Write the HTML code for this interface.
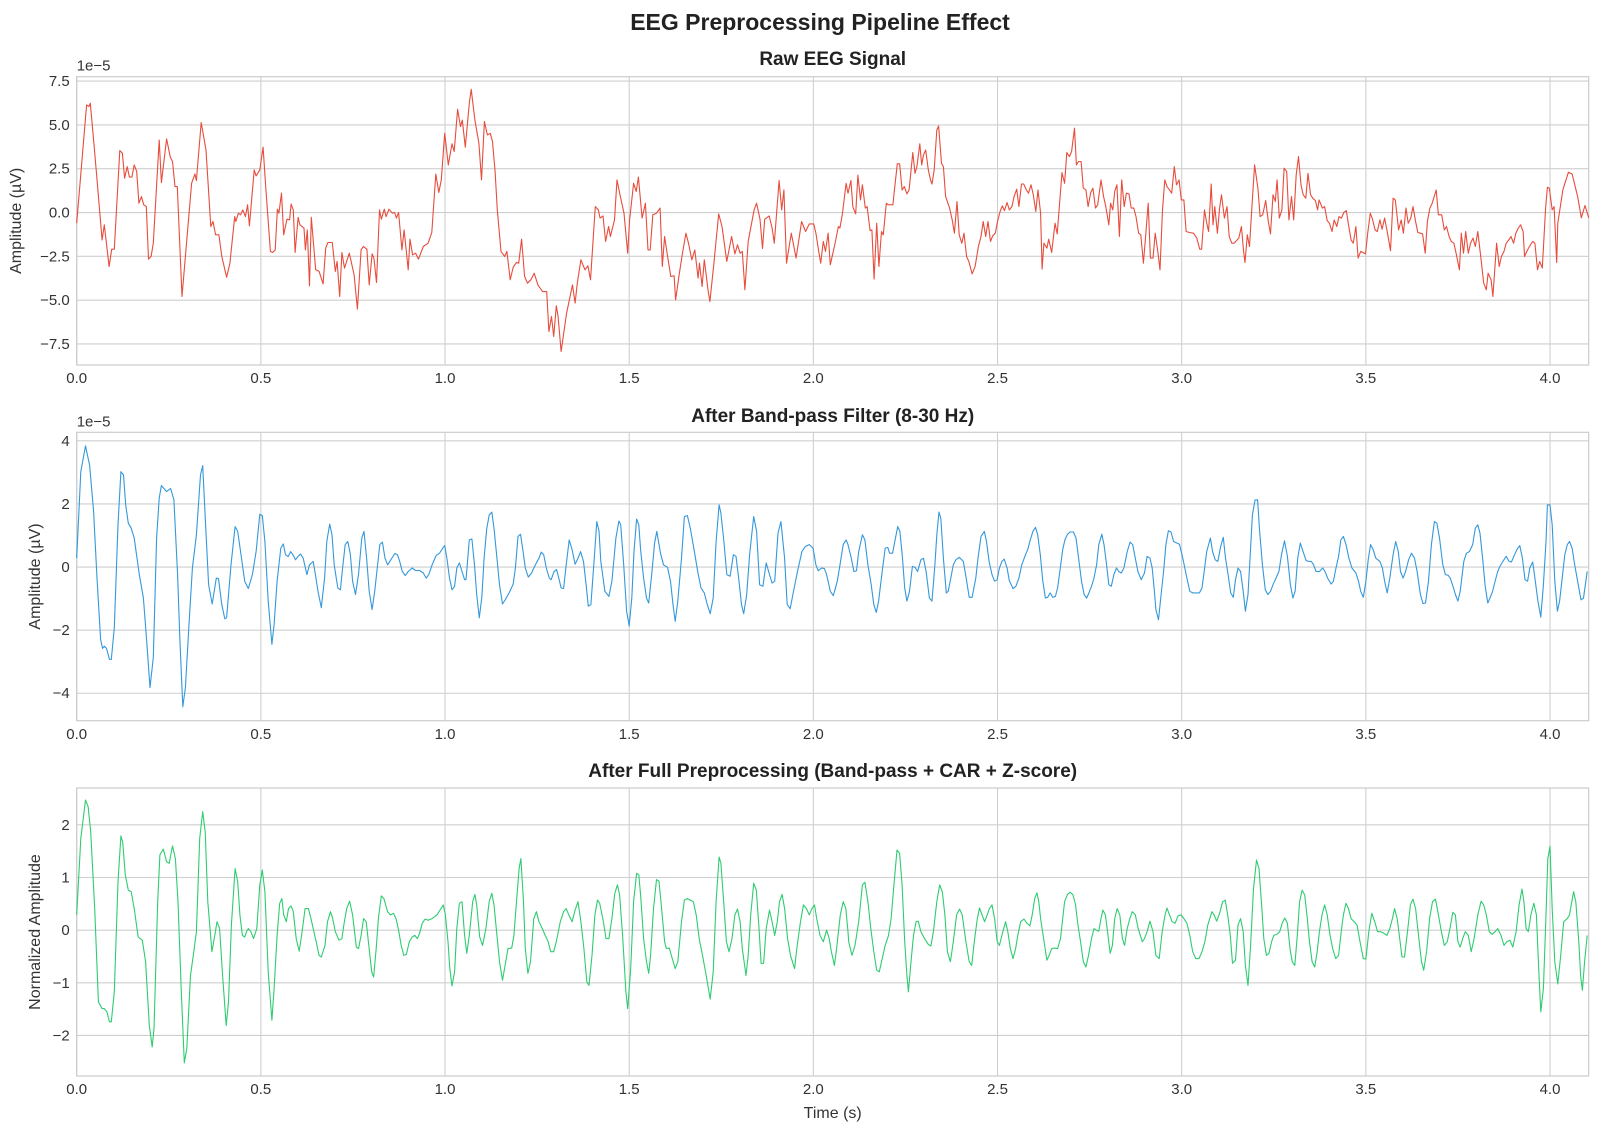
<!DOCTYPE html>
<html><head><meta charset="utf-8"><title>EEG Preprocessing Pipeline Effect</title>
<style>
html,body{margin:0;padding:0;background:#fff;}
svg{display:block;font-family:"Liberation Sans",Arial,sans-serif;}
.tk{font-size:15px;fill:#333;}
.ttl{font-size:19px;font-weight:bold;fill:#222;}
.grid{stroke:#cfcfcf;stroke-width:1.1;}
.frame{fill:none;stroke:#cccccc;stroke-width:1.2;}
</style></head>
<body>
<svg id="chart" width="1600" height="1135" viewBox="0 0 1600 1135" xmlns="http://www.w3.org/2000/svg">
<rect width="1600" height="1135" fill="#fff"/>
<text x="820" y="30" text-anchor="middle" font-size="23" font-weight="bold" fill="#222">EEG Preprocessing Pipeline Effect</text>
</svg>
<script>
// ---- data ----
const xTicks = [0.0, 0.5, 1.0, 1.5, 2.0, 2.5, 3.0, 3.5, 4.0];
const rawTicks = [-7.5, -5.0, -2.5, 0.0, 2.5, 5.0, 7.5];
const bpTicks = [-4, -2, 0, 2, 4];
const fullTicks = [-2, -1, 0, 1, 2];

const rawT = [0.000,0.027,0.033,0.037,0.046,0.053,0.069,0.075,0.088,0.095,0.102,0.117,0.124,0.130,0.137,0.143,0.150,0.156,0.163,0.169,0.176,0.182,0.189,0.195,0.202,0.208,0.224,0.230,0.244,0.254,0.260,0.267,0.273,0.286,0.312,0.321,0.325,0.338,0.351,0.364,0.370,0.377,0.386,0.394,0.407,0.416,0.429,0.432,0.439,0.445,0.451,0.458,0.464,0.469,0.482,0.487,0.497,0.506,0.513,0.526,0.532,0.539,0.545,0.549,0.556,0.562,0.571,0.578,0.582,0.588,0.593,0.601,0.606,0.617,0.621,0.626,0.632,0.637,0.649,0.658,0.669,0.676,0.682,0.694,0.702,0.707,0.714,0.720,0.727,0.740,0.753,0.762,0.772,0.778,0.788,0.794,0.802,0.807,0.814,0.822,0.827,0.835,0.840,0.848,0.857,0.863,0.868,0.874,0.883,0.889,0.900,0.905,0.912,0.920,0.928,0.941,0.954,0.964,0.975,0.983,0.990,0.999,1.009,1.019,1.025,1.034,1.042,1.047,1.055,1.066,1.071,1.081,1.092,1.099,1.107,1.115,1.123,1.129,1.136,1.142,1.152,1.162,1.168,1.177,1.185,1.194,1.200,1.208,1.216,1.224,1.233,1.242,1.252,1.265,1.276,1.282,1.289,1.295,1.302,1.307,1.315,1.330,1.346,1.353,1.359,1.369,1.380,1.388,1.395,1.408,1.416,1.421,1.429,1.436,1.444,1.449,1.460,1.467,1.475,1.486,1.496,1.501,1.512,1.519,1.525,1.535,1.544,1.551,1.557,1.564,1.574,1.584,1.590,1.596,1.602,1.613,1.622,1.626,1.635,1.644,1.654,1.661,1.670,1.678,1.687,1.691,1.698,1.704,1.714,1.719,1.730,1.743,1.752,1.765,1.778,1.787,1.794,1.801,1.807,1.814,1.823,1.839,1.846,1.855,1.862,1.868,1.880,1.888,1.894,1.907,1.914,1.920,1.927,1.940,1.953,1.968,1.979,1.989,
2.001,2.007,2.014,2.020,2.027,2.033,2.040,2.046,2.059,2.068,2.072,2.079,2.089,2.094,2.102,2.107,2.115,2.121,2.128,2.133,2.141,2.146,2.154,2.159,2.165,2.172,2.178,2.185,2.190,2.198,2.203,2.216,2.221,2.228,2.234,2.241,2.247,2.254,2.260,2.270,2.276,2.281,2.289,2.294,2.299,2.305,2.312,2.318,2.322,2.328,2.335,2.340,2.348,2.353,2.359,2.370,2.377,2.383,2.390,2.396,2.403,2.409,2.416,2.422,2.431,2.439,2.448,2.455,2.461,2.468,2.474,2.481,2.487,2.494,2.500,2.507,2.513,2.519,2.526,2.532,2.539,2.545,2.552,2.558,2.565,2.571,2.578,2.584,2.591,2.597,2.604,2.610,2.617,2.621,2.626,2.634,2.639,2.647,2.656,2.662,2.675,2.682,2.688,2.695,2.701,2.709,2.714,2.720,2.727,2.733,2.740,2.746,2.753,2.759,2.766,2.772,2.781,2.788,2.794,2.802,2.807,2.813,2.818,2.824,2.831,2.837,2.844,2.850,2.857,2.863,2.870,2.876,2.883,2.889,2.896,2.902,2.909,2.915,2.922,2.928,2.935,2.941,2.948,2.954,2.960,2.967,2.973,2.980,2.986,2.993,2.999,3.006,3.012,3.021,3.032,3.041,3.049,3.054,3.062,3.067,3.073,3.080,3.085,3.090,3.097,3.103,3.108,3.116,3.123,3.129,3.136,3.142,3.155,3.162,3.168,3.172,3.178,3.184,3.189,3.198,3.207,3.213,3.220,3.228,3.235,3.241,3.248,3.254,3.259,3.265,3.272,3.278,3.285,3.291,3.298,3.304,3.311,3.317,3.324,3.330,3.337,3.343,3.350,3.356,3.363,3.369,3.373,3.382,3.388,3.395,3.401,3.408,3.414,3.421,3.427,3.434,3.440,3.447,3.453,3.460,3.466,3.473,3.479,3.486,3.492,3.499,3.505,3.512,3.518,3.525,3.531,3.538,3.544,3.551,3.557,3.567,3.574,3.580,3.589,3.596,3.602,3.609,3.615,3.622,3.628,3.635,3.641,3.648,3.654,3.661,3.667,3.674,3.680,3.691,3.697,3.706,3.713,3.719,3.726,3.732,3.739,3.745,3.754,3.759,3.765,3.771,3.778,3.784,3.791,3.797,3.804,3.814,3.820,3.827,3.832,3.840,3.845,3.855,3.862,3.868,3.875,3.881,3.888,3.894,3.901,3.907,3.914,3.920,3.927,3.931,3.937,3.944,3.953,3.959,3.966,3.972,3.979,3.988,3.993,3.998,4.006,4.011,4.018,4.021,4.035,4.050,4.060,4.075,4.085,4.095,4.105];
const rawV = [-0.61,6.14,6.05,6.24,4.14,2.43,-1.56,-0.70,-3.08,-2.09,-2.09,3.54,3.38,1.96,2.62,2.02,2.02,2.72,2.34,0.53,0.91,0.44,0.34,-2.66,-2.51,-1.75,4.14,1.71,4.20,3.16,2.91,1.48,1.48,-4.79,1.67,2.20,1.83,5.13,3.57,-0.80,-0.51,-1.27,-1.27,-2.51,-3.69,-2.89,-0.23,-0.51,-0.04,-0.13,0.15,-0.23,0.44,-0.76,2.43,2.09,2.43,3.73,1.48,-2.22,-2.28,-2.13,0.19,-0.04,1.10,-1.27,-0.38,-0.42,0.48,0.15,-2.28,-0.27,-0.70,-0.89,-2.13,-0.99,-4.18,-0.27,-3.27,-3.36,-4.07,-2.03,-1.71,-1.71,-3.36,-2.79,-4.79,-2.28,-3.17,-2.32,-3.55,-5.51,-2.13,-1.94,-2.09,-4.13,-2.36,-2.60,-3.99,0.15,-0.38,0.19,-0.23,0.19,-0.04,0.00,-0.32,0.00,-2.13,-0.99,-3.27,-1.52,-2.41,-2.32,-2.66,-1.94,-1.75,-1.14,2.20,1.14,1.86,4.52,2.72,3.92,3.48,5.89,4.90,5.28,3.73,6.24,7.03,5.28,3.95,1.86,5.19,4.43,4.52,4.05,2.34,0.15,-2.22,-2.51,-2.22,-3.84,-3.12,-2.85,-2.89,-1.52,-3.65,-4.03,-3.84,-3.46,-4.13,-4.51,-4.51,-6.79,-5.93,-7.07,-5.32,-5.93,-7.93,-5.74,-4.13,-5.17,-4.03,-2.70,-3.27,-3.04,-3.84,0.34,0.15,-0.32,-0.19,-1.65,-0.80,-1.37,-0.42,1.86,1.01,-0.04,-2.32,-0.42,1.67,1.20,2.02,-0.32,0.53,-2.13,-2.13,-0.13,-0.04,0.25,-3.08,-1.37,-2.22,-3.65,-3.61,-4.98,-3.65,-2.41,-1.18,-1.75,-2.70,-2.13,-3.74,-2.89,-4.22,-2.70,-4.41,-5.08,-2.89,-0.08,-0.80,-2.79,-1.37,-2.36,-1.84,-2.32,-2.22,-4.41,-1.65,0.15,0.53,-0.38,-2.05,-0.38,-0.19,-0.89,-1.75,1.83,0.15,1.29,-2.89,-1.18,-2.60,-0.51,-1.08,-0.65,
-0.65,-1.18,-2.13,-2.89,-1.65,-2.22,-1.18,-2.98,-1.75,-0.80,-0.89,-0.04,1.67,1.10,1.83,0.34,-0.08,2.13,0.72,1.58,0.25,0.34,-1.03,-0.99,-3.80,-0.61,-3.08,-1.08,-1.27,0.53,0.44,0.44,1.48,2.78,2.78,1.29,1.48,1.06,1.29,3.42,2.24,2.62,3.92,2.72,3.29,3.57,2.43,1.86,1.63,2.43,4.71,4.94,2.81,2.62,0.91,0.25,-0.42,-1.18,0.63,-1.27,-1.75,-1.18,-2.51,-2.79,-3.50,-3.08,-1.94,-1.37,-0.51,-1.37,-0.51,-1.65,-1.33,-1.18,-0.51,0.06,0.38,0.11,0.57,0.15,0.34,0.91,1.33,0.34,1.63,1.63,1.29,1.10,1.58,1.01,0.06,1.29,-0.04,-3.23,-1.75,-2.03,-1.52,-2.28,-0.61,-1.22,2.28,1.67,3.42,3.19,3.48,4.81,2.72,2.91,2.91,1.39,1.29,0.34,1.14,1.39,0.25,0.44,1.86,0.91,0.34,-0.70,0.53,0.15,1.20,1.58,-1.37,1.86,0.34,1.10,1.06,0.25,0.25,-0.23,-1.18,-1.27,-2.89,-1.37,0.53,-2.60,-2.60,-1.18,-2.22,-3.27,0.15,1.86,1.48,1.29,1.10,2.62,1.58,1.86,0.72,0.72,-1.08,-1.14,-1.18,-1.46,-2.09,-2.09,0.15,-0.51,-1.08,1.63,-0.70,0.34,-1.18,0.25,1.01,-0.32,0.34,-1.37,-1.75,-1.75,-1.46,-0.80,-2.22,-2.85,-1.27,-1.94,-0.23,2.72,1.39,-0.23,-0.13,0.68,-0.51,-1.22,1.01,0.63,1.86,-0.32,0.15,2.53,2.34,-0.42,0.91,-0.42,2.15,3.19,1.58,1.01,0.82,2.24,1.01,0.82,0.68,0.15,0.72,0.25,0.34,-0.46,-0.61,-1.08,-0.42,-0.80,-0.23,-0.32,0.00,0.11,-0.70,-1.56,-1.75,-0.80,-2.60,-2.22,-2.28,-2.36,-1.18,-0.04,-0.38,-0.99,-1.08,-0.42,-0.95,-0.32,-0.99,-2.17,0.82,0.72,-0.99,-0.42,-1.18,0.25,-0.61,-0.32,0.34,-0.51,-1.14,-1.18,-1.22,-2.32,-0.51,0.25,0.53,1.29,-0.13,-0.13,-0.99,-0.80,-1.37,-1.65,-1.75,-2.32,-3.27,-1.18,-2.32,-1.08,-2.32,-1.75,-1.46,-1.94,-1.08,-2.89,-4.03,-4.41,-3.46,-3.84,-4.79,-1.75,-3.08,-2.51,-2.22,-1.75,-1.56,-1.37,-1.75,-1.18,-0.89,-0.70,-1.08,-2.51,-2.22,-1.94,-1.65,-1.75,-3.27,-2.79,-3.17,0.25,1.44,1.39,0.15,0.34,-2.85,-0.61,1.30,2.30,2.20,0.90,-0.30,0.40,-0.30];

const bpT = [0.000,0.011,0.024,0.035,0.046,0.055,0.065,0.070,0.075,0.081,0.089,0.094,0.102,0.112,0.120,0.127,0.133,0.140,0.148,0.156,0.170,0.181,0.190,0.199,0.208,0.217,0.224,0.230,0.244,0.255,0.264,0.274,0.280,0.288,0.295,0.305,0.314,0.325,0.336,0.342,0.350,0.358,0.368,0.379,0.385,0.394,0.402,0.407,0.419,0.430,0.437,0.446,0.456,0.466,0.477,0.487,0.497,0.504,0.511,0.520,0.530,0.536,0.544,0.554,0.561,0.567,0.574,0.581,0.588,0.594,0.601,0.608,0.615,0.625,0.632,0.642,0.648,0.655,0.664,0.673,0.679,0.687,0.693,0.699,0.709,0.716,0.722,0.729,0.736,0.743,0.749,0.757,0.765,0.774,0.780,0.787,0.794,0.802,0.809,0.817,0.823,0.830,0.837,0.844,0.850,0.864,0.871,0.877,0.884,0.892,0.900,0.911,0.920,0.931,0.941,0.949,0.956,0.965,0.976,0.985,0.995,0.999,1.005,1.012,1.019,1.026,1.032,1.039,1.046,1.053,1.057,1.066,1.073,1.080,1.086,1.093,1.100,1.106,1.113,1.120,1.127,1.133,1.140,1.148,1.156,1.164,1.174,1.185,1.191,1.198,1.205,1.212,1.218,1.226,1.235,1.241,1.248,1.255,1.261,1.268,1.275,1.283,1.288,1.296,1.303,1.309,1.315,1.322,1.329,1.337,1.345,1.353,1.361,1.368,1.376,1.383,1.389,1.396,1.404,1.412,1.418,1.423,1.434,1.445,1.453,1.464,1.472,1.477,1.485,1.493,1.500,1.507,1.513,1.520,1.526,1.531,1.539,1.547,1.553,1.561,1.569,1.575,1.585,1.593,1.604,1.612,1.619,1.625,1.632,1.642,1.650,1.658,1.666,1.677,1.686,1.695,1.704,1.712,1.720,1.728,1.736,1.744,1.749,1.757,1.765,1.774,1.783,1.790,1.798,1.805,1.811,1.819,1.827,1.838,1.846,1.854,1.863,1.872,1.881,1.888,1.895,1.904,1.912,1.922,1.929,1.937,1.946,1.957,1.969,1.978,1.989,1.999,2.007,2.013,2.022,2.030,2.036,2.046,2.054,2.065,2.073,2.081,2.089,2.094,
2.103,2.110,2.117,2.123,2.133,2.140,2.148,2.157,2.164,2.171,2.177,2.187,2.195,2.202,2.207,2.215,2.221,2.229,2.235,2.242,2.248,2.254,2.261,2.269,2.276,2.283,2.292,2.299,2.306,2.315,2.322,2.330,2.335,2.341,2.346,2.353,2.361,2.366,2.373,2.380,2.387,2.396,2.407,2.415,2.423,2.431,2.441,2.447,2.455,2.464,2.470,2.477,2.485,2.492,2.499,2.505,2.512,2.518,2.526,2.532,2.542,2.550,2.558,2.566,2.576,2.582,2.589,2.596,2.603,2.609,2.616,2.623,2.630,2.636,2.643,2.650,2.657,2.663,2.670,2.677,2.683,2.690,2.697,2.706,2.713,2.720,2.728,2.735,2.742,2.748,2.755,2.762,2.769,2.775,2.783,2.789,2.796,2.802,2.809,2.816,2.823,2.829,2.836,2.843,2.852,2.860,2.867,2.874,2.881,2.890,2.899,2.906,2.914,2.920,2.926,2.930,2.937,2.944,2.951,2.957,2.964,2.971,2.978,2.987,2.994,3.003,3.014,3.022,3.030,3.041,3.048,3.055,3.061,3.068,3.078,3.084,3.091,3.098,3.106,3.113,3.119,3.126,3.133,3.140,3.146,3.153,3.160,3.167,3.173,3.180,3.187,3.192,3.199,3.206,3.211,3.219,3.227,3.234,3.241,3.248,3.254,3.264,3.271,3.279,3.287,3.295,3.302,3.308,3.315,3.322,3.331,3.338,3.345,3.352,3.358,3.365,3.374,3.383,3.389,3.396,3.406,3.412,3.419,3.426,3.432,3.439,3.446,3.454,3.462,3.473,3.480,3.486,3.493,3.500,3.507,3.513,3.520,3.527,3.538,3.545,3.551,3.558,3.565,3.574,3.581,3.588,3.594,3.601,3.608,3.616,3.624,3.632,3.639,3.648,3.655,3.662,3.670,3.678,3.686,3.693,3.700,3.709,3.716,3.723,3.729,3.738,3.743,3.750,3.756,3.766,3.773,3.781,3.790,3.797,3.804,3.810,3.817,3.824,3.831,3.837,3.844,3.851,3.858,3.864,3.872,3.881,3.889,3.895,3.902,3.910,3.918,3.925,3.932,3.939,3.945,3.953,3.959,3.967,3.975,3.982,3.989,3.993,4.000,4.006,4.013,4.020,4.026,4.033,4.040,4.047,4.053,4.060,4.067,4.078,4.084,4.091,4.101];
const bpV = [0.28,3.02,3.84,3.23,1.76,-0.35,-2.29,-2.58,-2.51,-2.58,-2.93,-2.93,-1.93,1.34,3.02,2.92,1.97,1.39,1.23,0.92,-0.24,-0.98,-2.35,-3.82,-2.87,0.92,2.18,2.58,2.39,2.49,2.13,-0.24,-2.24,-4.43,-3.82,-1.82,-0.03,1.02,2.92,3.21,1.34,-0.56,-1.17,-0.35,-0.37,-1.19,-1.64,-1.61,0.07,1.28,1.13,0.39,-0.45,-0.68,-0.24,0.49,1.67,1.63,0.81,-1.08,-2.45,-1.82,-0.45,0.60,0.73,0.39,0.33,0.49,0.37,0.23,0.34,0.41,0.28,-0.24,0.07,0.18,-0.24,-0.77,-1.29,-0.35,0.81,1.36,1.02,0.07,-0.66,-0.72,-0.03,0.71,0.81,0.39,-0.45,-0.87,-0.24,0.92,1.13,0.28,-0.77,-1.35,-0.77,0.07,0.71,0.79,0.28,0.07,0.18,0.43,0.39,0.18,-0.14,-0.27,-0.14,-0.03,-0.11,-0.11,-0.19,-0.35,-0.24,0.07,0.37,0.44,0.62,0.68,0.28,-0.35,-0.72,-0.61,-0.03,0.13,-0.14,-0.40,-0.40,0.86,0.89,0.07,-0.87,-1.61,-0.93,0.28,1.21,1.65,1.74,1.23,0.39,-0.56,-1.17,-1.03,-0.82,-0.54,-0.03,0.97,1.04,0.49,-0.03,-0.32,-0.19,-0.03,0.13,0.28,0.47,0.39,-0.03,-0.35,-0.40,-0.14,-0.08,-0.35,-0.66,-0.68,0.07,0.86,0.55,0.09,0.28,0.49,0.18,-0.56,-1.24,-1.19,0.07,1.44,1.15,0.18,-0.77,-0.93,-0.45,0.92,1.46,1.34,0.07,-1.40,-1.87,-0.98,0.49,1.52,1.34,0.55,-0.35,-0.98,-1.14,-0.24,0.76,1.13,0.44,0.07,-0.01,-0.45,-1.19,-1.72,-1.08,0.28,1.60,1.63,1.23,0.49,-0.14,-0.66,-0.82,-1.19,-1.48,-0.98,0.81,1.97,1.71,0.81,-0.24,-0.29,0.39,0.34,-0.45,-1.19,-1.48,-0.87,0.39,1.60,1.13,-0.56,-0.61,0.13,-0.24,-0.51,-0.45,1.07,1.44,0.28,-1.19,-1.32,-0.77,-0.14,0.49,0.65,0.71,0.60,0.07,-0.12,-0.03,-0.05,-0.24,-0.77,-0.91,-0.45,0.13,0.71,0.86,0.71,
0.28,-0.14,-0.12,0.49,1.02,0.86,0.07,-0.56,-1.19,-1.44,-1.08,-0.14,0.60,0.62,0.44,0.44,0.81,1.28,1.13,0.28,-0.66,-1.08,-0.77,0.02,-0.01,-0.14,0.23,0.28,-0.14,-0.98,-1.08,0.07,1.02,1.74,1.55,0.28,-0.82,-0.77,-0.35,0.07,0.23,0.31,0.18,-0.35,-0.96,-0.96,-0.35,0.28,0.97,1.13,0.81,0.18,-0.24,-0.45,-0.40,-0.03,0.18,0.25,-0.03,-0.43,-0.68,-0.61,-0.35,0.07,0.39,0.55,0.86,1.13,1.26,1.02,0.39,-0.45,-0.98,-0.96,-0.82,-0.96,-0.93,-0.66,-0.08,0.55,0.86,1.04,1.11,1.11,0.92,0.28,-0.45,-0.87,-0.98,-0.82,-0.61,-0.35,0.07,0.71,1.04,0.71,0.07,-0.56,-0.61,-0.24,-0.03,-0.14,-0.19,-0.03,0.49,0.79,0.71,0.28,-0.14,-0.40,-0.19,0.34,0.28,-0.03,-0.77,-1.35,-1.67,-0.87,-0.14,0.71,1.15,1.11,0.81,0.76,0.72,0.28,-0.35,-0.77,-0.82,-0.82,-0.82,-0.66,-0.14,0.49,0.92,0.49,0.23,0.18,0.65,0.94,0.28,-0.24,-0.82,-0.96,-0.40,-0.03,-0.14,-0.77,-1.40,-0.87,0.60,1.65,2.12,2.13,1.23,0.07,-0.72,-0.87,-0.77,-0.56,-0.40,-0.14,0.39,0.83,0.34,-0.56,-0.98,-0.77,0.28,0.76,0.44,0.20,0.18,0.18,0.07,-0.14,-0.14,-0.03,-0.14,-0.35,-0.54,-0.45,-0.03,0.34,0.86,0.97,0.71,0.28,-0.03,-0.19,-0.45,-0.77,-0.96,-0.45,0.28,0.71,0.55,0.28,0.18,-0.03,-0.45,-0.82,-0.35,0.39,0.81,0.49,-0.14,-0.35,-0.14,0.23,0.44,0.28,-0.14,-0.87,-1.16,-1.14,-0.45,0.71,1.44,1.39,0.92,0.07,-0.24,-0.26,-0.35,-0.66,-0.87,-1.08,-0.77,0.18,0.44,0.49,0.71,1.23,1.34,1.07,0.28,-0.61,-1.14,-0.98,-0.77,-0.45,-0.14,0.02,0.18,0.34,0.18,0.16,0.34,0.55,0.68,0.28,-0.40,-0.45,-0.03,0.16,-0.35,-1.08,-1.59,-0.56,0.81,1.97,1.97,1.34,-0.45,-1.40,-1.08,-0.35,0.39,0.71,0.81,0.60,0.07,-0.66,-1.04,-0.98,-0.14];

const fullT = [0.000,0.011,0.024,0.031,0.038,0.049,0.059,0.069,0.075,0.082,0.089,0.094,0.102,0.112,0.120,0.125,0.132,0.140,0.148,0.156,0.167,0.178,0.187,0.197,0.205,0.210,0.220,0.226,0.235,0.244,0.251,0.260,0.268,0.275,0.284,0.292,0.299,0.309,0.318,0.325,0.334,0.342,0.349,0.356,0.367,0.375,0.381,0.388,0.396,0.406,0.412,0.420,0.430,0.437,0.443,0.450,0.456,0.461,0.466,0.473,0.480,0.489,0.497,0.504,0.511,0.520,0.530,0.536,0.544,0.551,0.557,0.562,0.569,0.575,0.582,0.588,0.596,0.604,0.612,0.620,0.629,0.636,0.644,0.651,0.658,0.664,0.674,0.681,0.689,0.695,0.702,0.712,0.720,0.726,0.733,0.741,0.749,0.759,0.765,0.772,0.779,0.786,0.792,0.801,0.806,0.813,0.819,0.827,0.834,0.844,0.852,0.860,0.867,0.873,0.881,0.888,0.895,0.903,0.911,0.918,0.925,0.931,0.938,0.946,0.954,0.965,0.978,0.989,0.995,1.001,1.008,1.013,1.019,1.026,1.032,1.039,1.046,1.053,1.059,1.066,1.075,1.081,1.086,1.094,1.102,1.111,1.120,1.127,1.133,1.140,1.148,1.156,1.163,1.171,1.181,1.187,1.194,1.201,1.206,1.213,1.218,1.225,1.232,1.241,1.248,1.255,1.264,1.272,1.280,1.287,1.295,1.302,1.313,1.322,1.329,1.336,1.345,1.353,1.361,1.369,1.377,1.385,1.391,1.399,1.407,1.414,1.420,1.430,1.437,1.445,1.453,1.461,1.468,1.474,1.482,1.491,1.496,1.504,1.512,1.520,1.526,1.531,1.539,1.547,1.553,1.558,1.566,1.574,1.581,1.588,1.596,1.601,1.609,1.617,1.625,1.632,1.642,1.650,1.658,1.666,1.674,1.682,1.690,1.699,1.709,1.720,1.728,1.736,1.744,1.749,1.757,1.764,1.771,1.779,1.787,1.794,1.801,1.807,1.817,1.823,1.830,1.838,1.845,1.852,1.858,1.865,1.872,1.881,1.888,1.895,1.902,1.908,1.915,1.922,1.930,1.938,1.949,1.955,1.965,1.973,1.981,1.989,1.996,2.003,2.009,2.018,2.027,2.036,2.043,2.049,2.057,2.063,2.073,2.081,2.088,2.094,
2.096,2.105,2.113,2.123,2.133,2.140,2.148,2.156,2.164,2.172,2.179,2.187,2.195,2.204,2.211,2.221,2.227,2.234,2.241,2.248,2.254,2.258,2.265,2.272,2.279,2.285,2.292,2.302,2.312,2.319,2.326,2.335,2.343,2.350,2.357,2.364,2.372,2.380,2.389,2.397,2.404,2.414,2.423,2.430,2.437,2.445,2.451,2.458,2.465,2.472,2.478,2.485,2.492,2.499,2.505,2.512,2.522,2.528,2.535,2.542,2.549,2.555,2.563,2.572,2.580,2.588,2.594,2.601,2.607,2.612,2.617,2.625,2.634,2.640,2.647,2.655,2.663,2.671,2.677,2.682,2.690,2.697,2.705,2.712,2.717,2.727,2.733,2.740,2.747,2.755,2.762,2.769,2.775,2.781,2.786,2.793,2.800,2.806,2.812,2.818,2.825,2.832,2.839,2.845,2.852,2.859,2.866,2.874,2.882,2.893,2.899,2.906,2.914,2.922,2.930,2.939,2.947,2.955,2.960,2.967,2.974,2.982,2.990,2.998,3.006,3.014,3.022,3.030,3.038,3.047,3.055,3.063,3.071,3.082,3.088,3.095,3.103,3.111,3.118,3.125,3.132,3.138,3.146,3.153,3.160,3.167,3.173,3.180,3.187,3.195,3.203,3.210,3.217,3.223,3.230,3.237,3.244,3.250,3.258,3.266,3.273,3.280,3.287,3.294,3.300,3.307,3.314,3.320,3.327,3.334,3.341,3.347,3.354,3.361,3.368,3.374,3.381,3.388,3.395,3.403,3.410,3.418,3.426,3.433,3.439,3.446,3.453,3.460,3.468,3.476,3.484,3.493,3.500,3.508,3.516,3.524,3.532,3.540,3.549,3.557,3.565,3.572,3.578,3.585,3.592,3.598,3.605,3.613,3.621,3.628,3.635,3.643,3.651,3.657,3.665,3.673,3.681,3.689,3.697,3.705,3.713,3.721,3.729,3.736,3.743,3.750,3.756,3.763,3.770,3.778,3.786,3.794,3.804,3.813,3.820,3.827,3.835,3.843,3.851,3.858,3.867,3.875,3.883,3.891,3.899,3.908,3.916,3.924,3.929,3.935,3.941,3.948,3.956,3.963,3.970,3.975,3.982,3.989,3.994,4.000,4.006,4.013,4.021,4.029,4.037,4.047,4.053,4.059,4.064,4.070,4.078,4.083,4.088,4.094,4.101];
const fullV = [0.29,1.74,2.47,2.35,1.87,0.41,-1.36,-1.49,-1.49,-1.55,-1.74,-1.74,-1.17,0.92,1.79,1.67,1.05,0.76,0.73,0.41,-0.13,-0.19,-0.60,-1.81,-2.22,-1.87,0.54,1.43,1.54,1.30,1.27,1.60,1.36,0.54,-1.17,-2.52,-2.25,-0.86,-0.41,-0.03,1.74,2.25,1.87,0.54,-0.41,-0.10,0.16,0.03,-0.86,-1.81,-1.36,0.10,1.17,0.92,0.29,-0.10,-0.13,-0.03,0.03,-0.03,-0.16,0.03,0.86,1.14,0.73,-0.79,-1.71,-1.11,-0.10,0.51,0.60,0.29,0.16,0.41,0.46,0.35,-0.16,-0.40,-0.03,0.41,0.41,0.22,-0.03,-0.25,-0.48,-0.51,-0.29,0.16,0.35,0.22,-0.03,-0.19,-0.16,0.13,0.41,0.55,0.29,-0.32,-0.35,-0.10,0.22,0.16,-0.22,-0.79,-0.89,-0.35,0.22,0.65,0.60,0.35,0.29,0.32,0.22,0.03,-0.29,-0.48,-0.46,-0.22,-0.13,-0.10,-0.16,-0.06,0.13,0.21,0.19,0.22,0.29,0.41,0.48,0.29,-0.22,-0.73,-1.06,-0.79,0.03,0.51,0.54,-0.10,-0.44,-0.10,0.54,0.68,0.48,-0.13,-0.29,0.03,0.54,0.70,0.48,-0.03,-0.60,-0.95,-0.67,-0.35,-0.34,-0.10,0.54,1.17,1.36,0.54,-0.35,-0.82,-0.60,0.22,0.35,0.16,0.03,-0.10,-0.22,-0.41,-0.41,-0.22,0.16,0.35,0.41,0.29,0.16,0.38,0.54,0.16,-0.35,-0.98,-1.05,-0.48,0.29,0.57,0.51,0.16,-0.16,-0.16,0.22,0.70,0.86,0.67,-0.10,-1.17,-1.49,-0.73,0.54,1.08,1.05,0.67,-0.16,-0.60,-0.82,-0.48,0.41,0.96,0.93,0.41,-0.22,-0.35,-0.34,-0.54,-0.73,-0.60,0.16,0.57,0.60,0.57,0.54,0.29,-0.16,-0.48,-0.86,-1.31,-0.79,0.54,1.39,1.27,0.48,-0.22,-0.41,-0.16,0.29,0.40,0.16,-0.35,-0.86,-0.48,0.29,0.89,0.76,0.10,-0.63,-0.63,0.03,0.38,0.16,-0.10,0.16,0.54,0.68,0.41,-0.16,-0.48,-0.73,-0.35,0.16,0.48,0.41,0.29,0.41,0.48,0.22,-0.10,-0.22,0.00,-0.16,-0.41,-0.67,-0.35,0.29,0.54,0.41,-0.03,
-0.22,-0.48,-0.29,0.16,0.86,0.91,0.54,0.03,-0.41,-0.76,-0.79,-0.54,-0.29,-0.10,0.22,1.05,1.52,1.46,0.86,-0.22,-0.86,-1.17,-0.60,-0.10,0.16,0.17,-0.03,-0.16,-0.27,-0.30,-0.03,0.54,0.86,0.73,0.29,-0.41,-0.60,-0.22,0.29,0.40,0.29,-0.22,-0.60,-0.67,-0.22,0.22,0.42,0.29,0.16,0.29,0.41,0.48,0.22,-0.22,-0.29,-0.10,0.16,-0.03,-0.35,-0.54,-0.35,-0.10,0.16,0.21,0.13,0.08,0.29,0.60,0.71,0.54,0.22,-0.16,-0.57,-0.48,-0.35,-0.34,-0.35,-0.16,0.22,0.54,0.68,0.72,0.67,0.48,0.16,-0.29,-0.60,-0.70,-0.48,-0.16,0.03,0.00,-0.02,0.22,0.38,0.29,-0.10,-0.44,-0.29,0.22,0.41,0.29,-0.16,-0.29,0.03,0.22,0.35,0.29,0.03,-0.22,-0.16,-0.03,0.17,-0.03,-0.48,-0.54,-0.03,0.29,0.42,0.29,0.16,0.13,0.27,0.29,0.22,0.13,-0.10,-0.41,-0.54,-0.54,-0.41,-0.22,0.10,0.35,0.29,0.17,0.32,0.54,0.57,0.29,-0.10,-0.63,-0.57,0.10,0.22,-0.03,-0.67,-1.05,-0.29,0.79,1.33,1.17,0.48,-0.16,-0.48,-0.44,-0.22,-0.10,-0.08,-0.03,0.13,0.23,0.13,-0.35,-0.60,-0.67,-0.10,0.54,0.76,0.67,0.22,-0.22,-0.60,-0.70,-0.41,-0.03,0.29,0.48,0.29,-0.10,-0.35,-0.54,-0.48,-0.03,0.29,0.51,0.41,0.22,0.16,0.10,-0.22,-0.54,-0.55,-0.03,0.32,0.16,-0.03,-0.03,-0.06,-0.10,0.03,0.22,0.41,0.22,-0.16,-0.51,-0.51,-0.03,0.48,0.59,0.41,-0.10,-0.60,-0.76,-0.41,0.22,0.54,0.59,0.29,-0.03,-0.29,-0.22,0.06,0.34,0.29,-0.22,-0.32,-0.16,-0.03,-0.10,-0.41,-0.16,0.29,0.55,0.48,0.29,-0.03,-0.08,-0.03,0.03,-0.10,-0.29,-0.22,-0.19,-0.32,-0.03,0.48,0.78,0.54,0.03,-0.03,0.29,0.51,0.29,-0.86,-1.55,-1.11,0.29,1.36,1.59,0.41,-0.60,-1.02,-0.48,0.16,0.22,0.29,0.54,0.73,0.54,-0.22,-0.86,-1.14,-0.60,-0.10];

// ---- layout ----
const svg = document.getElementById('chart');
const NS = 'http://www.w3.org/2000/svg';
const X0 = 76.7, X1 = 1588.7, XMAX = 4.105;
function xScale(t){ return X0 + (t / XMAX) * (X1 - X0); }
function mk(tag, attrs, parent){
  const e = document.createElementNS(NS, tag);
  for (const k in attrs) e.setAttribute(k, attrs[k]);
  (parent || svg).appendChild(e);
  return e;
}

const panels = [
  {key:'raw', top:76.7, bot:365, ymin:-8.7, ymax:7.75, ticks:rawTicks, fmt:v=>v.toFixed(1).replace('-','\u2212'), T:rawT, V:rawV, color:'#e74c3c',
   title:'Raw EEG Signal', titleY:65, ylab:'Amplitude (\u00b5V)', ylabX:21, offset:true, xtickY:383},
  {key:'bandpass', top:432.3, bot:720.7, ymin:-4.87, ymax:4.27, ticks:bpTicks, fmt:v=>String(v).replace('-','\u2212'), T:bpT, V:bpV, color:'#3498db',
   title:'After Band-pass Filter (8-30 Hz)', titleY:422, ylab:'Amplitude (\u00b5V)', ylabX:40, offset:true, xtickY:739},
  {key:'full', top:788, bot:1076, ymin:-2.77, ymax:2.70, ticks:fullTicks, fmt:v=>String(v).replace('-','\u2212'), T:fullT, V:fullV, color:'#2ecc71',
   title:'After Full Preprocessing (Band-pass + CAR + Z-score)', titleY:777, ylab:'Normalized Amplitude', ylabX:40, offset:false, xtickY:1094}
];

panels.forEach(p => {
  const g = mk('g', {});
  
  
  const yScale = v => p.bot - (v - p.ymin) / (p.ymax - p.ymin) * (p.bot - p.top);
  // grid
  xTicks.forEach(t => {
    const l = mk('line', {x1:xScale(t), x2:xScale(t), y1:p.top, y2:p.bot, class:'grid'}, g);
    
    
  });
  p.ticks.forEach(v => {
    const l = mk('line', {x1:X0, x2:X1, y1:yScale(v), y2:yScale(v), class:'grid'}, g);
    
    
    const tx = mk('text', {x:X0 - 7, y:yScale(v) + 5, 'text-anchor':'end', class:'tk'}, g);
    
    
    tx.textContent = p.fmt(v);
  });
  xTicks.forEach(t => {
    const tx = mk('text', {x:xScale(t), y:p.xtickY, 'text-anchor':'middle', class:'tk'}, g);
    
    
    tx.textContent = t.toFixed(1);
  });
  const fr = mk('rect', {x:X0, y:p.top, width:X1 - X0, height:p.bot - p.top, class:'frame'}, g);
  
  
  // line
  let d = '';
  for (let i = 0; i < p.T.length; i++) {
    d += (i ? 'L' : 'M') + xScale(p.T[i]).toFixed(1) + ' ' + yScale(p.V[i]).toFixed(1);
  }
  const path = mk('path', {d:d, fill:'none', stroke:p.color, 'stroke-width':1.1, 'stroke-linejoin':'round'}, g);
  
  
  // title
  const tt = mk('text', {x:(X0 + X1) / 2, y:p.titleY, 'text-anchor':'middle', class:'ttl'}, g);
  
  
  tt.textContent = p.title;
  // y label
  const cy = (p.top + p.bot) / 2;
  const yl = mk('text', {x:p.ylabX, y:cy, 'text-anchor':'middle', 'font-size':16, fill:'#333', transform:'rotate(-90 ' + p.ylabX + ' ' + cy + ')'}, g);
  
  
  yl.textContent = p.ylab;
  if (p.offset) {
    const off = mk('text', {x:X0, y:p.top - 6, class:'tk'}, g);
    
    
    off.textContent = '1e\u22125';
  }
});
const xl = mk('text', {x:(X0 + X1) / 2, y:1118, 'text-anchor':'middle', 'font-size':16, fill:'#333'});


xl.textContent = 'Time (s)';
</script>
</body></html>
